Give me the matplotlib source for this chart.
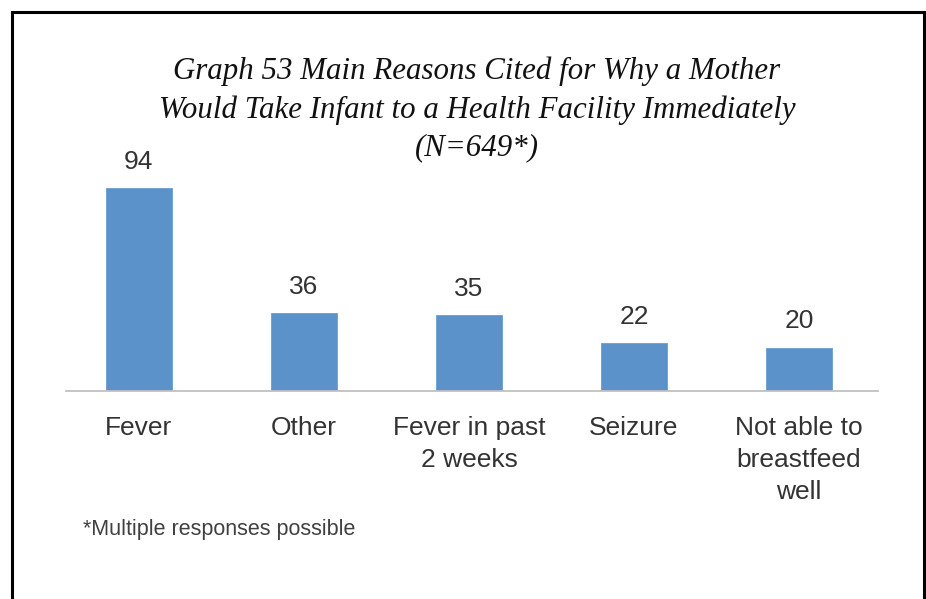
import matplotlib
matplotlib.use("Agg")
import matplotlib.pyplot as plt
from matplotlib.lines import Line2D

categories = ["Fever", "Other", "Fever in past\n2 weeks", "Seizure", "Not able to\nbreastfeed\nwell"]
values = [94, 36, 35, 22, 20]
title = "Graph 53 Main Reasons Cited for Why a Mother\nWould Take Infant to a Health Facility Immediately\n(N=649*)"
footnote = "*Multiple responses possible"

W, H = 926, 599
fig = plt.figure(figsize=(W / 100, H / 100), dpi=100)
fig.patch.set_facecolor("white")

ax = fig.add_axes([66 / W, 1 - 391 / H, (878 - 66) / W, 216 / H])
x = list(range(len(categories)))
ax.bar(x, values, width=0.4, color="#5b92c9", edgecolor="#6a9dd0", linewidth=0.6, zorder=2)
ax.set_xlim(-0.442, 4.479)
ax.set_ylim(0, 100)
for s in ["top", "left", "right"]:
    ax.spines[s].set_visible(False)
ax.spines["bottom"].set_color("#c0c0c0")
ax.spines["bottom"].set_linewidth(1.3)
ax.set_yticks([])
ax.set_xticks(x)
ax.set_xticklabels(categories, fontfamily="Liberation Sans", fontsize=19, color="#333333", linespacing=1.42)
ax.tick_params(axis="x", length=0, pad=18)

for xi, v in zip(x, values):
    ax.annotate(str(v), (xi, v), xytext=(0, 14), textcoords="offset points",
                ha="center", va="baseline", fontfamily="Liberation Sans", fontsize=19, color="#333333")

fig.text(477 / W, 1 - 57 / H, title, ha="center", va="top", fontfamily="Liberation Serif",
         style="italic", fontsize=22.2, color="#111111", linespacing=1.38)

fig.text(83 / W, 1 - 530 / H, footnote, ha="left", va="center", fontfamily="Liberation Sans",
         fontsize=15.5, color="#404040")

lw = 2.2
fig.add_artist(Line2D([12 / W, 12 / W], [0, 1 - 12 / H], transform=fig.transFigure, color="black", lw=lw))
fig.add_artist(Line2D([12 / W, 924 / W], [1 - 12 / H, 1 - 12 / H], transform=fig.transFigure, color="black", lw=lw, solid_capstyle="projecting"))
fig.add_artist(Line2D([924 / W, 924 / W], [0, 1 - 12 / H], transform=fig.transFigure, color="black", lw=lw))

fig.savefig("out.png", dpi=100, facecolor="white")
